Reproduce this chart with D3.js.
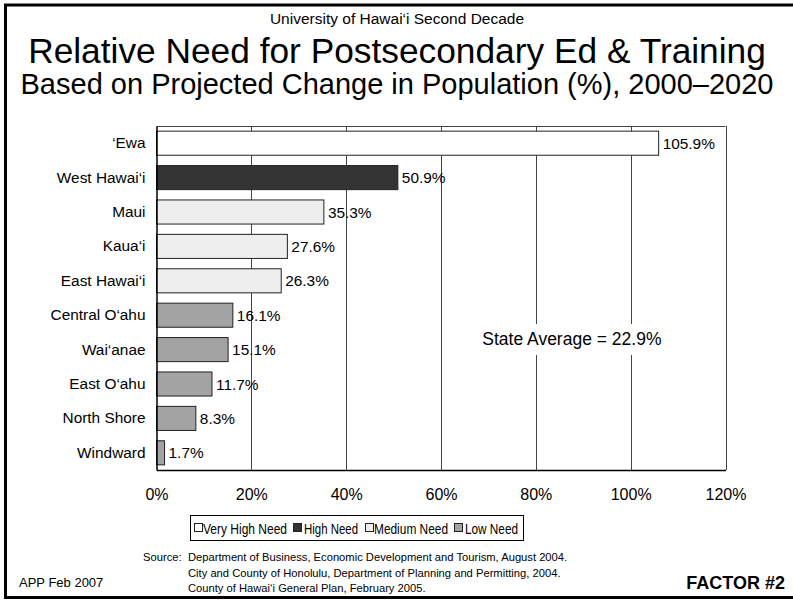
<!DOCTYPE html>
<html><head><meta charset="utf-8">
<script src="https://cdn.jsdelivr.net/npm/d3@7"></script>
<style>body{margin:0;background:#fff}svg{display:block;font-family:"Liberation Sans",Arial,sans-serif}</style>
</head><body><svg id="c" width="793" height="600"></svg>
<script>
const categories = ["‘Ewa","West Hawai‘i","Maui","Kaua‘i","East Hawai‘i","Central O‘ahu","Wai‘anae","East O‘ahu","North Shore","Windward"];
const values = [105.9,50.9,35.3,27.6,26.3,16.1,15.1,11.7,8.3,1.7];
const needLevel = ["Very High Need","High Need","Medium Need","Medium Need","Medium Need","Low Need","Low Need","Low Need","Low Need","Low Need"];
const needNames = ["Very High Need","High Need","Medium Need","Low Need"];
const needColors = ["#ffffff","#333333","#eeeeee","#a3a3a3"];
const xTicks = [0,20,40,60,80,100,120];
const stateAverage = 22.9;
const sources = ["Department of Business, Economic Development and Tourism, August 2004.","City and County of Honolulu, Department of Planning and Permitting, 2004.","County of Hawai‘i General Plan, February 2005."];

const svg = d3.select("#c");
const color = d3.scaleOrdinal().domain(needNames).range(needColors);
const m = {l:156.5, r:725.5, t:126, b:470};
const x = d3.scaleLinear().domain([0,120]).range([m.l,m.r]);
const y = d3.scaleBand().domain(categories).range([m.t,m.b]).paddingInner(0.3).paddingOuter(0.15);

// frame
svg.append("rect").attr("x",5.5).attr("y",5).attr("width",820).attr("height",592.5)
  .attr("fill","none").attr("stroke","#000").attr("stroke-width",3);

// titles
svg.append("text").attr("x",397).attr("y",24).attr("text-anchor","middle").attr("font-size",15.5).text("University of Hawai‘i Second Decade");
svg.append("text").attr("x",397).attr("y",63).attr("text-anchor","middle").attr("font-size",35.3).text("Relative Need for Postsecondary Ed & Training");
svg.append("text").attr("x",397).attr("y",94).attr("text-anchor","middle").attr("font-size",29).text("Based on Projected Change in Population (%), 2000–2020");

// gridlines
const g = svg.append("g");
g.selectAll("line.grid").data(xTicks.slice(1)).join("line")
  .attr("x1",d=>Math.round(x(d))+0.5).attr("x2",d=>Math.round(x(d))+0.5)
  .attr("y1",m.t).attr("y2",m.b).attr("stroke","#444").attr("stroke-width",1);
g.append("line").attr("x1",m.l).attr("x2",m.r).attr("y1",m.t+0.5).attr("y2",m.t+0.5).attr("stroke","#444");

// state average label with white background
const sa = g.append("g");
sa.append("rect").attr("x",x(68.5)).attr("y",324).attr("width",x(107)-x(68.5)).attr("height",31).attr("fill","#fff");
sa.append("text").attr("x",x(87.6)).attr("y",345).attr("text-anchor","middle").attr("font-size",17.5).text(`State Average = ${stateAverage}%`);

// bars
g.selectAll("rect.bar").data(values).join("rect").attr("class","bar")
  .attr("x",x(0)).attr("y",(d,i)=>y(categories[i]))
  .attr("width",d=>x(d)-x(0)).attr("height",y.bandwidth())
  .attr("fill",(d,i)=>color(needLevel[i])).attr("stroke","#222").attr("stroke-width",1);

// value labels
g.selectAll("text.val").data(values).join("text")
  .attr("x",d=>x(d)+4).attr("y",(d,i)=>y(categories[i])+y.bandwidth()/2+5.5)
  .attr("font-size",15.4).text(d=>d.toFixed(1)+"%");

// axes
const yAxis = svg.append("g").attr("transform",`translate(${m.l},0)`).call(d3.axisLeft(y).tickSize(0).tickPadding(11));
yAxis.select(".domain").attr("stroke","#000").attr("stroke-width",1.5);
yAxis.selectAll("text").attr("font-size",15.4).attr("font-family","Liberation Sans, Arial, sans-serif").attr("fill","#000");

const xAxis = svg.append("g").attr("transform",`translate(0,${m.b})`).call(d3.axisBottom(x).tickValues(xTicks).tickSize(0).tickPadding(19).tickFormat(d=>d+"%"));
xAxis.select(".domain").attr("stroke","#000").attr("stroke-width",1.5);
xAxis.selectAll("text").attr("font-size",16).attr("font-family","Liberation Sans, Arial, sans-serif").attr("fill","#000");

// legend
const lg = svg.append("g");
lg.append("rect").attr("x",190.5).attr("y",515.5).attr("width",333).attr("height",25).attr("fill","#fff").attr("stroke","#000").attr("stroke-width",1);
const legSq = [194,293,365,454];
const legTx = [203,304,374,465];
const legW = [84,54,74,53];
needNames.forEach((n,i)=>{
  lg.append("rect").attr("x",legSq[i]+0.5).attr("y",523.5).attr("width",8).attr("height",8).attr("fill",needColors[i]).attr("stroke","#222");
  lg.append("text").attr("x",legTx[i]).attr("y",533.5).attr("font-size",14.5)
    .attr("textLength",legW[i]).attr("lengthAdjust","spacingAndGlyphs").text(n);
});

// source
svg.append("text").attr("x",143).attr("y",561).attr("font-size",11.2).text("Source:");
svg.selectAll("text.src").data(sources).join("text").attr("x",188).attr("y",(d,i)=>561+i*15.5).attr("font-size",11.2).text(d=>d);
svg.append("text").attr("x",19).attr("y",587).attr("font-size",13).text("APP Feb 2007");
svg.append("text").attr("x",785).attr("y",589).attr("text-anchor","end").attr("font-size",18).attr("font-weight","bold").text("FACTOR #2");
</script></body></html>
